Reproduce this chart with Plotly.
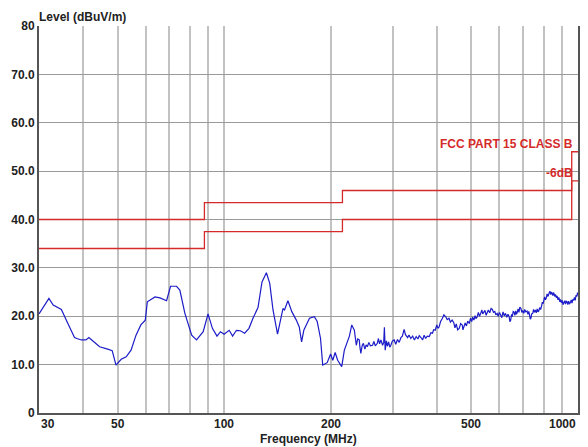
import math
import plotly.graph_objects as go

# Measured radiated emission (frequency in MHz, level in dBuV/m)
freq_mhz = [
    30, 32.0, 32.9, 34.7, 36.2, 37.8, 38.4, 39.5, 40.7, 41.5, 42.6, 44.5, 46.9, 48.3,
    49.5, 51.2, 52.9, 54.6, 56.4, 58.2, 59.9, 60.7, 63.8, 65.9, 68.8, 70.6, 73.4, 75.0,
    77.5, 81.0, 83.6, 87.3, 90.1, 92.7, 95.5, 97.7, 100.0, 103.4, 105.7, 108.4, 111.2,
    114.3, 117.6, 120.7, 124.7, 128.0, 131.7, 134.6, 137.5, 141.6, 146.7, 148.2, 151.5,
    155.5, 160.0, 163.1, 165.6, 168.0, 174.3, 180.0, 183.3, 187.3, 190.0, 195.6, 200.0,
    202.8, 206.0, 209.4, 215.0, 218.7, 226.0, 229.5, 233.4,
    236.4, 238.5, 241, 242, 243.5, 245.5, 247.5, 250, 252, 254, 256.5, 259, 262.8, 265,
    267.5, 271, 273, 275, 277.5, 280.5, 282.5, 283.8, 285.3, 287.5, 289.5, 291.7, 294,
    296, 299, 302.5, 305.5, 309, 312.5, 316, 319, 322.6, 325.5, 330, 333, 337, 341, 345,
    349, 353, 356, 360, 364, 367.5, 371, 375, 380, 384, 388, 391, 395, 399, 402, 405,
    409, 414, 418, 423, 427, 432, 436, 441, 446, 449, 453, 457, 461.7, 466, 471, 473,
    476, 480, 484, 488, 493, 497, 501, 504, 508, 512, 515, 519, 523, 527, 531, 535, 538,
    542, 546, 550, 554, 558, 563, 568, 573, 577, 582, 586, 591, 595, 600, 604, 609, 614,
    619, 624, 629, 634, 639, 642, 645, 649, 652, 656, 659, 663, 667, 670, 673, 677, 681,
    685, 690, 694, 698, 703, 707, 712, 718, 722, 726, 730, 733, 736, 740, 745, 749, 753,
    758, 762, 767, 771, 775, 779, 784, 789, 793, 797, 801, 805, 809, 813, 818, 823, 828,
    833, 838, 843, 849, 854, 859, 864, 869, 873, 878, 883, 888, 892, 897, 902, 907, 912,
    917, 922, 926, 931, 936, 941, 946, 952, 957, 962, 967, 972, 977, 982, 987, 993, 997,
    1000,
]
level_dbuv = [
    20.5, 23.7, 22.3, 21.4, 18.5, 15.6, 15.4, 15.1, 15.1, 15.6, 14.9, 13.7, 13.2, 12.9,
    9.9, 11.1, 11.6, 13.0, 16.1, 18.2, 19.2, 23.0, 24.0, 23.8, 23.2, 26.2, 26.2, 25.4,
    20.6, 16.1, 15.1, 16.8, 20.5, 17.5, 15.9, 16.8, 16.3, 17.1, 15.9, 17.1, 17.0,
    16.5, 17.5, 19.6, 21.8, 27.1, 29.0, 26.8, 21.3, 16.3, 21.6, 21.3, 23.2,
    20.9, 19.2, 17.8, 14.7, 17.1, 19.6, 19.9, 18.9, 15.4, 9.9, 10.4, 12.2,
    10.9, 12.5, 10.9, 9.6, 13.0, 15.9, 18.2, 17.1,
    14.0, 15.3, 15.1, 13.6, 12.3, 13.9, 14.4, 13.2, 14.1, 13.7, 14.6, 13.9, 14.0, 14.8,
    13.9, 14.4, 15.4, 14.3, 15.1, 14.0, 14.6, 17.7, 13.0, 14.9, 13.8, 14.7, 13.6,
    14.0, 14.9, 15.1, 14.2, 15.2, 14.6, 15.6, 15.9, 17.3, 16.2, 15.6, 16.1, 15.4, 15.9, 15.1,
    15.8, 15.3, 16.0, 15.6, 15.1, 16.1, 15.4, 15.9, 15.8, 16.6, 16.5, 17.2, 17.1, 18.2, 17.5, 17.8,
    18.9, 19.6, 20.3, 19.9, 19.3, 19.6, 18.8, 19.2, 18.6, 17.6, 18.4, 17.2, 17.5, 18.5, 18.2, 17.2,
    17.8, 18.6, 18.0, 19.0, 18.5, 19.6, 18.9, 19.8, 19.2, 20.1, 19.5, 19.9, 20.8, 20.0, 20.6, 21.3, 20.5,
    20.9, 21.2, 20.2, 20.6, 21.3, 20.7, 21.6, 21.4, 20.8, 21.0, 20.3, 20.6, 20.0, 20.8, 20.2, 19.7, 20.9,
    20.1, 20.6, 19.8, 20.4, 19.9, 18.9, 19.1, 20.4, 19.9, 21.0, 20.9, 20.2, 21.1, 20.4, 20.7, 21.5, 20.8,
    21.9, 21.6, 20.8, 21.2, 20.6, 21.4, 20.9, 21.1, 20.4, 21.0, 20.2, 19.4, 19.6, 20.5, 20.6, 21.4, 20.8,
    21.3, 20.7, 21.5, 20.9, 21.1, 21.8, 21.4, 22.1, 22.9, 22.6, 23.3, 24.0, 23.4, 23.7, 24.6, 24.1, 24.7,
    25.2, 24.5, 25.0, 24.3, 24.9, 24.1, 24.5, 23.8, 24.2, 23.4, 23.9, 23.0, 23.5, 22.8, 23.3, 22.4, 22.7,
    23.2, 22.5, 23.1, 23.0, 22.4, 23.1, 22.6, 22.8, 23.4, 22.7, 23.5, 23.3, 23.9, 23.3, 24.3, 24.1, 24.9,
    24.4,
]

# FCC Part 15 Class B limit and the 6 dB margin line (stepped)
limit_freq = [30, 88, 216, 960, 1000]
fcc_limit = [40, 43.5, 46, 54, 54]
margin_limit = [34, 37.5, 40, 48, 48]

y_ticks = [0, 10, 20, 30, 40, 50, 60, 70, 80]
y_tick_text = ["0", "10.0", "20.0", "30.0", "40.0", "50.0", "60.0", "70.0", "80"]
x_label_vals = [30, 50, 100, 200, 500, 1000]
x_grid_vals = [40, 60, 70, 80, 90, 300, 400, 600, 700, 800, 900]

FONT = "Liberation Sans, Arial, sans-serif"
RED = "#d42a2a"
VGRID = "#c2c2c2"

fig = go.Figure()
fig.add_trace(go.Scatter(x=limit_freq, y=fcc_limit, mode="lines", line_shape="hv",
                         line=dict(color=RED, width=1.3), hoverinfo="skip"))
fig.add_trace(go.Scatter(x=limit_freq, y=margin_limit, mode="lines", line_shape="hv",
                         line=dict(color=RED, width=1.3), hoverinfo="skip"))
fig.add_trace(go.Scatter(x=freq_mhz, y=level_dbuv, mode="lines",
                         line=dict(color="#1c1cc8", width=1.2)))

fig.update_layout(
    width=588, height=447,
    margin=dict(l=39, r=8, t=26, b=34),
    paper_bgcolor="white", plot_bgcolor="white",
    showlegend=False,
    font=dict(family=FONT, size=12, color="#222"),
    xaxis=dict(
        type="log", range=[math.log10(30), math.log10(1000)],
        tickmode="array", tickvals=x_label_vals, showticklabels=False, ticks="",
        showgrid=True, gridcolor=VGRID, gridwidth=1.5,
        minor=dict(tickmode="array", tickvals=x_grid_vals, showgrid=True,
                   gridcolor=VGRID, gridwidth=1.5, ticks=""),
        showline=True, linecolor="#555", linewidth=2, mirror=False,
        zeroline=False, fixedrange=True,
    ),
    yaxis=dict(
        range=[0, 80], tickmode="array", tickvals=y_ticks,
        ticktext=["<b>%s</b>" % t for t in y_tick_text], ticks="",
        tickfont=dict(family=FONT, size=12, color="#222"),
        showgrid=True, gridcolor="#9a9a9a", gridwidth=1,
        showline=True, linecolor="#555", linewidth=2, mirror=True,
        zeroline=False, fixedrange=True,
    ),
)

annotations = []
for v in x_label_vals:
    anchor = "center"
    if v == x_label_vals[0]:
        anchor = "left"
    elif v == x_label_vals[-1]:
        anchor = "right"
    annotations.append(dict(
        x=math.log10(v), xref="x", y=0, yref="paper", yanchor="top", yshift=-2,
        xanchor=anchor, text="<b>%d</b>" % v, showarrow=False,
        font=dict(family=FONT, size=12, color="#222"),
    ))
annotations += [
    dict(x=0, xref="paper", y=1, yref="paper", xanchor="left", yanchor="bottom",
         xshift=-2, yshift=0, text="<b>Level (dBuV/m)</b>", showarrow=False,
         font=dict(family=FONT, size=12, color="#222")),
    dict(x=0.5, xref="paper", y=0, yref="paper", xanchor="center", yanchor="top",
         yshift=-17, text="<b>Frequency (MHz)</b>", showarrow=False,
         font=dict(family=FONT, size=12, color="#222")),
    dict(x=math.log10(1000), xref="x", y=55.6, yref="y", xanchor="right", yanchor="middle",
         xshift=-3, text="<b>FCC PART 15 CLASS B</b>", showarrow=False,
         font=dict(family=FONT, size=12, color=RED)),
    dict(x=math.log10(1000), xref="x", y=49.6, yref="y", xanchor="right", yanchor="middle",
         xshift=-3, text="<b>-6dB</b>", showarrow=False,
         font=dict(family=FONT, size=12, color=RED)),
]
fig.update_layout(annotations=annotations)

fig.write_html("out.html", config={"displayModeBar": False})
